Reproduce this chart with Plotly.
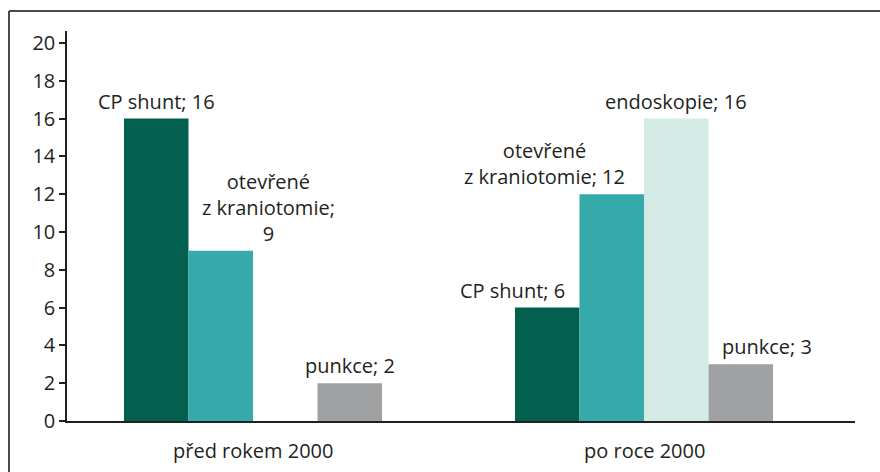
import plotly.graph_objects as go

categories = ["před rokem 2000", "po roce 2000"]
series_names = ["CP shunt", "otevřené z kraniotomie", "endoskopie", "punkce"]
cp_shunt = [16, 6]
otevrene = [9, 12]
endoskopie = [0, 16]
punkce = [2, 3]
y_ticks = [0, 2, 4, 6, 8, 10, 12, 14, 16, 18, 20]

# label texts (None = no label)
label_texts = {
    "CP shunt": ["CP shunt; 16", "CP shunt; 6"],
    "otevřené z kraniotomie": ["otevřené<br>z kraniotomie;<br>9", "otevřené<br>z kraniotomie; 12"],
    "endoskopie": [None, "endoskopie; 16"],
    "punkce": ["punkce; 2", "punkce; 3"],
}

colors = ["#03604f", "#36a9ab", "#d4ebe5", "#a0a1a3"]
values = [cp_shunt, otevrene, endoskopie, punkce]
text_color = "#231f20"
FONT = "Open Sans"
FS = 20

fig = go.Figure()
for name, vals, col in zip(series_names, values, colors):
    fig.add_trace(go.Bar(x=categories, y=vals, name=name, marker_color=col,
                         marker_line_width=0, hoverinfo="skip"))

# pixel geometry helpers for label placement
bar_px = 64.5
offsets = [-1.5, -0.5, 0.5, 1.5]
extra_shift = {
    "CP shunt": [0, -35],
    "otevřené z kraniotomie": [48, -67],
    "endoskopie": [0, 0],
    "punkce": [0, 26],
}
annotations = []
for s, name in enumerate(series_names):
    for c, cat in enumerate(categories):
        t = label_texts[name][c]
        if t is None:
            continue
        annotations.append(dict(
            x=cat, y=values[s][c], xref="x", yref="y", text=t, showarrow=False,
            xanchor="center", yanchor="bottom", align="center",
            xshift=offsets[s] * bar_px + extra_shift[name][c], yshift=2,
            font=dict(family=FONT, size=FS, color=text_color)))

# category labels drawn below the axis
for cat in categories:
    annotations.append(dict(
        x=cat, y=0, xref="x", yref="paper", text=cat, showarrow=False,
        xanchor="center", yanchor="middle", yshift=-29,
        font=dict(family=FONT, size=FS, color=text_color)))

frame = dict(color="#4a4a4a", width=2)
fig.update_layout(
    width=880, height=472,
    margin=dict(l=67, r=25, t=31, b=51),
    paper_bgcolor="white", plot_bgcolor="white",
    barmode="group", bargap=0.34, bargroupgap=0,
    showlegend=False,
    font=dict(family=FONT, size=FS, color=text_color),
    annotations=annotations,
    shapes=[
        dict(type="line", xref="paper", yref="paper", x0=-0.0736, x1=1.04,
             y0=1.0513, y1=1.0513, line=frame, layer="below"),
        dict(type="line", xref="paper", yref="paper", x0=-0.0736, x1=-0.0736,
             y0=-0.14, y1=1.0513, line=frame, layer="below"),
    ],
)
fig.update_xaxes(range=[-0.4757, 1.5396], showline=True, linecolor="#231f20", linewidth=1.5,
                 ticks="", showgrid=False, zeroline=False, showticklabels=False)
fig.update_yaxes(range=[0, 20.63], tickvals=y_ticks, showline=True, linecolor="#231f20",
                 linewidth=1.5, ticks="outside", ticklen=6, tickwidth=1.5, tickcolor="#231f20",
                 showgrid=False, zeroline=False,
                 tickfont=dict(family=FONT, size=FS, color=text_color))

css = "<style>html,body{margin:0!important;padding:0!important;overflow:hidden!important;border:0!important;}</style>"
fig.write_html("out.html", config={"displayModeBar": False, "responsive": False},
               post_script="document.head.insertAdjacentHTML('beforeend', \"" + css + "\");")
